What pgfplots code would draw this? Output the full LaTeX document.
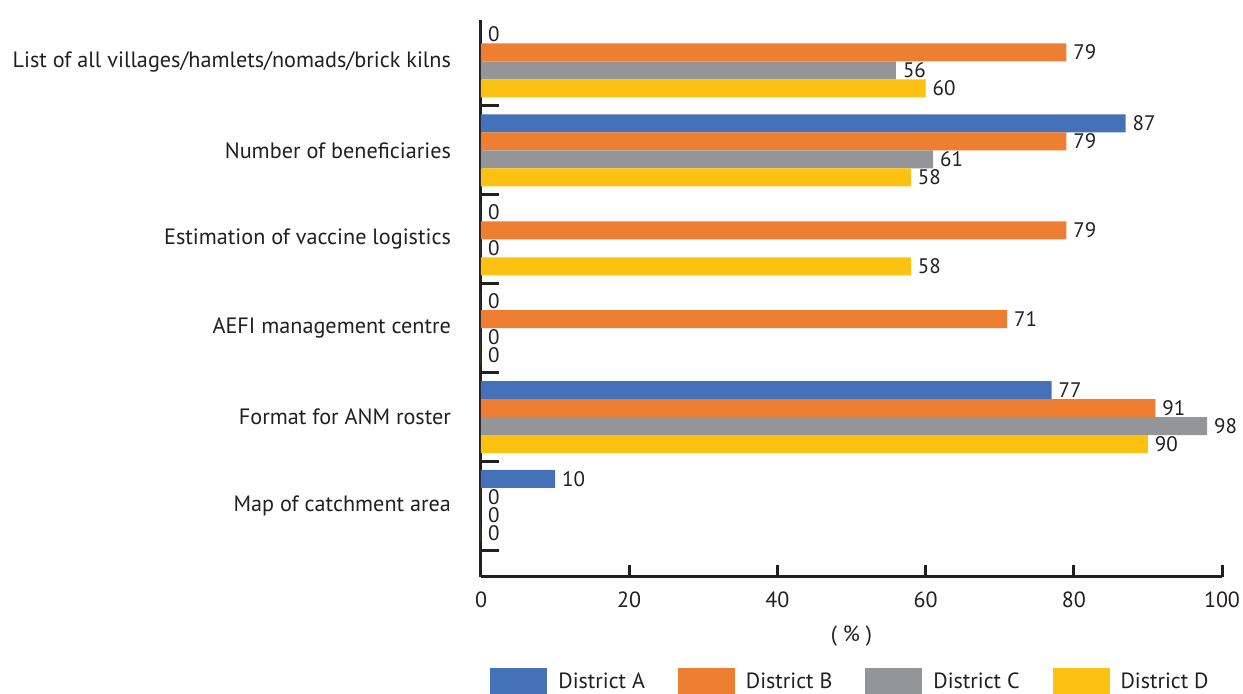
\documentclass[border=0pt]{standalone}
\usepackage{pgfplots}
\pgfplotsset{compat=1.18}
\usepackage{fontspec}
\setmainfont{PT Sans}
\definecolor{cA}{HTML}{4571B9}
\definecolor{cB}{HTML}{EE7E32}
\definecolor{cC}{HTML}{949598}
\definecolor{cD}{HTML}{FDC111}
\definecolor{axc}{HTML}{231F20}
\begin{document}
\begin{tikzpicture}
\path[use as bounding box] (0,0) rectangle (621.5pt,347pt);
\begin{axis}[
  at={(240.5pt,58.5pt)}, anchor=south west,
  scale only axis, width=370.5pt, height=278.5pt,
  font=\fontsize{11}{13}\selectfont,
  xbar=0pt, bar width=9pt,
  xmin=0, xmax=100, ymin=-0.467, ymax=5.8, y dir=reverse,
  axis x line=bottom, axis y line=left,
  axis line style={line width=1.5pt, color=axc, -},
  xtick={0,20,...,100},
  ytick={0,...,5},
  yticklabels={List of all villages/hamlets/nomads/brick kilns, Number of beneficiaries, Estimation of vaccine logistics, AEFI management centre, Format for ANM roster, Map of catchment area},
  minor ytick={0.5,1.5,2.5,3.5,4.5,5.5},
  tick align=inside, major tick length=6pt, minor tick length=9pt,
  tick style={line width=1.5pt, color=axc},
  major y tick style={draw=none},
  yticklabel style={xshift=-11.5pt, color=axc, font=\fontsize{11.1}{13}\selectfont},
  xticklabel style={yshift=-4pt, color=axc},
  /pgf/number format/assume math mode=true,
  xlabel={( \% )}, xlabel style={color=axc, yshift=-2pt},
  clip=false,
  nodes near coords, point meta=x,
  nodes near coords style={color=axc, font=\fontsize{10.5}{12}\selectfont},
  legend image code/.code={\fill[#1] (0pt,-7pt) rectangle (28.5pt,7pt); \path (32pt,0pt);},
  legend style={at={(0.5,-0.156)}, anchor=north, draw=none, legend columns=4,
    font=\fontsize{11}{13}\selectfont, text=axc,
    /tikz/every even column/.append style={column sep=14.5pt}},
]
\addplot[fill=cA, draw=none, bar shift=13.5pt] coordinates {(0,0) (87,1) (0,2) (0,3) (77,4) (10,5)};
\addplot[fill=cB, draw=none, bar shift=4.5pt] coordinates {(79,0) (79,1) (79,2) (71,3) (91,4) (0,5)};
\addplot[fill=cC, draw=none, bar shift=-4.5pt] coordinates {(56,0) (61,1) (0,2) (0,3) (98,4) (0,5)};
\addplot[fill=cD, draw=none, bar shift=-13.5pt] coordinates {(60,0) (58,1) (58,2) (0,3) (90,4) (0,5)};
\legend{District A, District B, District C, District D}
\end{axis}
\end{tikzpicture}
\end{document}
